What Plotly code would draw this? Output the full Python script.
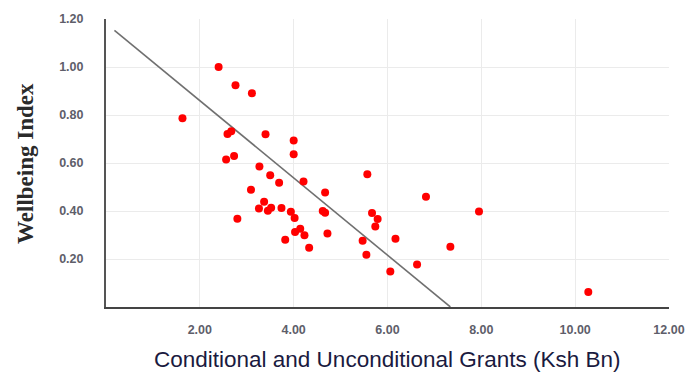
import plotly.graph_objects as go
import numpy as np

grants = [2.40, 2.76, 3.11, 1.63, 2.59, 2.67, 3.40, 4.00, 2.56, 2.73, 4.00, 3.27, 3.50, 3.69,
          4.21, 4.67, 3.09, 5.57, 3.37, 3.26, 3.45, 3.52, 3.74, 3.94, 4.02, 2.80, 4.62, 4.67,
          5.67, 5.79, 5.74, 4.03, 4.14, 4.23, 4.72, 3.82, 4.33, 5.47, 5.55, 6.17, 6.06, 6.82,
          7.95, 7.34, 6.63, 10.28]
wellbeing = [1.00, 0.924, 0.891, 0.786, 0.721, 0.732, 0.720, 0.694, 0.615, 0.629, 0.636, 0.585,
             0.549, 0.518, 0.523, 0.477, 0.489, 0.553, 0.439, 0.410, 0.401, 0.414, 0.412, 0.397,
             0.371, 0.368, 0.400, 0.393, 0.392, 0.367, 0.335, 0.313, 0.326, 0.299, 0.306, 0.280,
             0.247, 0.276, 0.218, 0.284, 0.148, 0.459, 0.398, 0.251, 0.177, 0.062]

trend_intercept = 1.182
trend_slope = -0.161
trend_x_range = [0.18, 7.34]

x_ticks = [2, 4, 6, 8, 10, 12]
y_ticks = [0.2, 0.4, 0.6, 0.8, 1.0, 1.2]

trend_x = np.array(trend_x_range)
trend_y = trend_intercept + trend_slope * trend_x

fig = go.Figure()
fig.add_trace(go.Scatter(x=trend_x, y=trend_y, mode="lines",
                         line=dict(color="#707070", width=1.6), hoverinfo="skip"))
fig.add_trace(go.Scatter(x=grants, y=wellbeing, mode="markers",
                         marker=dict(color="#ff0000", size=8)))

tickfont = dict(family="Liberation Sans, Arial", size=12.5, color="#5e5e6a", weight="bold")
fig.update_layout(
    width=697, height=376,
    margin=dict(l=106, r=23, t=17, b=69),
    plot_bgcolor="white", paper_bgcolor="white",
    showlegend=False,
    xaxis=dict(range=[0, 12], tickvals=x_ticks, tickformat=".2f", tickfont=tickfont,
               showgrid=True, gridcolor="#ebebeb", gridwidth=1,
               showline=True, linecolor="#444444", linewidth=2,
               zeroline=False, ticks="", ticklabelstandoff=10),
    yaxis=dict(range=[0, 1.2], tickvals=y_ticks, tickformat=".2f", tickfont=tickfont,
               showgrid=True, gridcolor="#ebebeb", gridwidth=1,
               showline=True, linecolor="#555555", linewidth=2,
               zeroline=False, ticks="", ticklabelstandoff=18),
    annotations=[
        dict(text="Conditional and Unconditional Grants (Ksh Bn)", xref="paper", yref="paper",
             x=0.5, y=-0.132, xanchor="center", yanchor="top", showarrow=False,
             font=dict(family="Liberation Sans, Arial", size=22.5, color="#1a1a40")),
        dict(text="Wellbeing Index", xref="paper", yref="paper",
             x=-0.144, y=0.5, xanchor="center", yanchor="middle", showarrow=False,
             textangle=-90,
             font=dict(family="Liberation Serif, Times New Roman", size=23, color="#2a2a2a",
                       weight=600)),
    ],
)
fig.write_html("out.html")
